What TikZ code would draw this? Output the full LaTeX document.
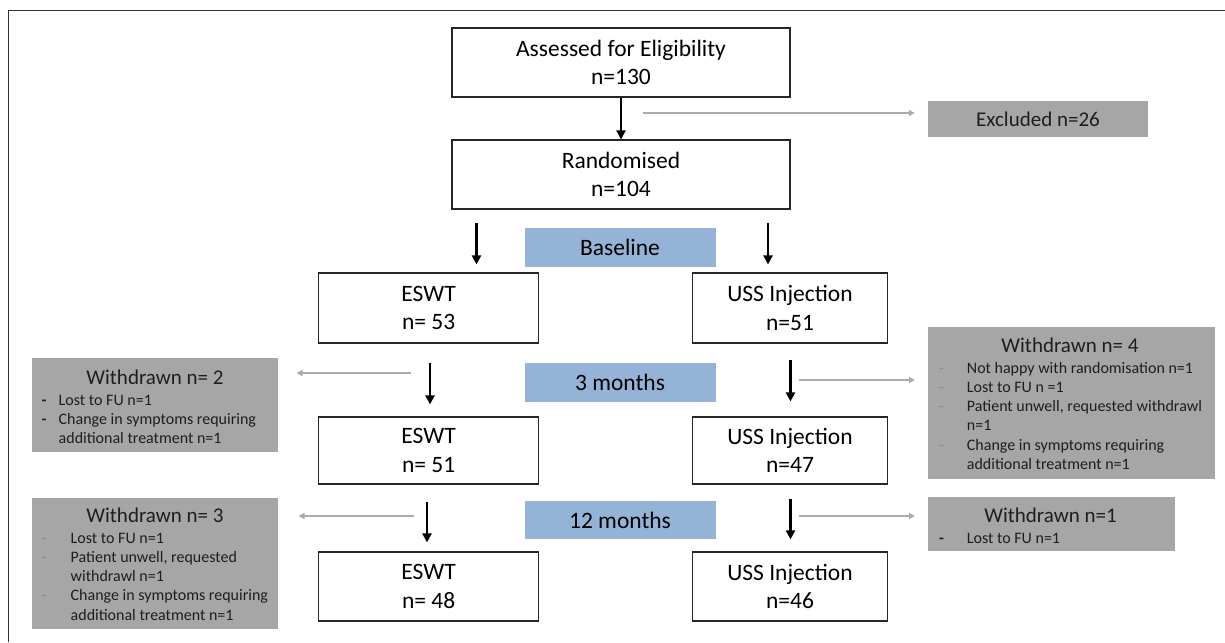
\documentclass[tikz,border=0pt]{standalone}
\usepackage{fontspec}
\setmainfont{Carlito}
\usetikzlibrary{arrows.meta}
\definecolor{boxgray}{HTML}{A6A6A6}
\definecolor{lblblue}{HTML}{95B3D7}
\definecolor{arrgray}{HTML}{ABABAB}
\definecolor{txtdark}{HTML}{1E1E1E}
\newcommand\mainfs{\fontsize{23.5}{28.5}\selectfont}
\newcommand\titlefs{\fontsize{21}{25}\selectfont}
\newcommand\itemfs{\fontsize{16}{19.3}\selectfont}
\tikzset{
  mainbox/.style={draw=black!85, line width=1.2pt, fill=white, inner sep=0pt, align=center, font=\mainfs, text=black},
  lbl/.style={fill=lblblue, inner sep=0pt, font=\mainfs, text=black},
  graybox/.style={fill=boxgray, inner sep=0pt},
  wtitle/.style={anchor=base, inner sep=0pt, font=\titlefs, text=txtdark},
  witems/.style={anchor=base west, inner sep=0pt, font=\itemfs, text=txtdark},
  blk/.style={line width=2.2pt, black, -{Triangle[length=9pt,width=9pt]}},
  gry/.style={line width=1.8pt, arrgray, -{Triangle[length=6pt,width=6pt]}}
}
\begin{document}
\begin{tikzpicture}[x=1pt,y=-1pt]
\useasboundingbox (0,0) rectangle (1225,642);
\fill[white] (0,0) rectangle (1225,642);
% frame
\draw[line width=1pt, black!80] (8.7,642) -- (8.7,11) -- (1225,11);

% main flow boxes
\node[mainbox, minimum width=338pt, minimum height=69pt] (assess) at (621,62.5) {Assessed for Eligibility\\n=130};
\node[mainbox, minimum width=338pt, minimum height=69pt] (rand) at (621,174.5) {Randomised\\n=104};
\node[graybox, minimum width=220pt, minimum height=36pt, font=\fontsize{21}{25}\selectfont, text=txtdark] (excl) at (1038,119) {Excluded n=26};

\node[lbl, minimum width=191pt, minimum height=39pt] (base) at (620,247.5) {Baseline};
\node[lbl, minimum width=191pt, minimum height=39pt] (m3) at (620,382.5) {3 months};
\node[lbl, minimum width=191pt, minimum height=38pt] (m12) at (620,520) {12 months};

\node[mainbox, minimum width=220pt, minimum height=70pt] (e1) at (428.6,308) {ESWT\\n= 53};
\node[mainbox, minimum width=194.5pt, minimum height=70pt] (u1) at (790,308) {USS Injection\\n=51};
\node[mainbox, minimum width=220pt, minimum height=67pt] (e2) at (428.6,450.5) {ESWT\\n= 51};
\node[mainbox, minimum width=194.5pt, minimum height=67pt] (u2) at (790,450.5) {USS Injection\\n=47};
\node[mainbox, minimum width=220pt, minimum height=69pt] (e3) at (428.6,586.5) {ESWT\\n= 48};
\node[mainbox, minimum width=194.5pt, minimum height=69pt] (u3) at (790,586.5) {USS Injection\\n=46};

% withdrawn boxes
\node[graybox, minimum width=246.4pt, minimum height=94pt] (w2) at (154.8,405) {};
\node[wtitle] (w2t) at (155,384) {Withdrawn n= 2};
\node[witems] (w2i) at (41.5,405) {\begin{tabular}[t]{@{}p{17pt}@{}l@{}}
\textbf{-} & Lost to FU n=1\\
\textbf{-} & Change in symptoms requiring\\
 & additional treatment n=1
\end{tabular}};

\node[graybox, minimum width=246.4pt, minimum height=131pt] (w3) at (154.8,563.5) {};
\node[wtitle] (w3t) at (155,522) {Withdrawn n= 3};
\node[witems] (w3i) at (41.5,543) {\begin{tabular}[t]{@{}p{29pt}@{}l@{}}
\textcolor{black!45}{-} & Lost to FU n=1\\
\textcolor{black!45}{-} & Patient unwell, requested\\
 & withdrawl n=1\\
\textcolor{black!45}{-} & Change in symptoms requiring\\
 & additional treatment n=1
\end{tabular}};

\node[graybox, minimum width=286.6pt, minimum height=152pt] (w4) at (1071.3,403) {};
\node[wtitle] (w4t) at (1070,352) {Withdrawn n= 4};
\node[witems] (w4i) at (939,373) {\begin{tabular}[t]{@{}p{27.7pt}@{}l@{}}
\textcolor{black!45}{-} & Not happy with randomisation n=1\\
\textcolor{black!45}{-} & Lost to FU n =1\\
\textcolor{black!45}{-} & Patient unwell, requested withdrawl\\
 & n=1\\
\textcolor{black!45}{-} & Change in symptoms requiring\\
 & additional treatment n=1
\end{tabular}};

\node[graybox, minimum width=247pt, minimum height=54pt] (w1) at (1051.5,524) {};
\node[wtitle] (w1t) at (1050.5,522) {Withdrawn n=1};
\node[witems] (w1i) at (939,543) {\begin{tabular}[t]{@{}p{27.7pt}@{}l@{}}
\textbf{-} & Lost to FU n=1
\end{tabular}};

% x positions for arrows
\coordinate (xA) at (621,0);
\coordinate (xL0) at (476.5,0);
\coordinate (xR0) at (768,0);
\coordinate (xL1) at (430,0);
\coordinate (xL2) at (427,0);
\coordinate (xR) at (790.5,0);

% black arrows
\draw[blk] (assess.south -| xA) -- (rand.north -| xA);
\draw[blk, shorten <=13pt, shorten >=8pt] (rand.south -| xL0) -- (e1.north -| xL0);
\draw[blk, shorten <=13pt, shorten >=8pt] (rand.south -| xR0) -- (u1.north -| xR0);
\draw[blk, shorten <=19pt, shorten >=12pt] (e1.south -| xL1) -- (e2.north -| xL1);
\draw[blk, shorten <=16pt, shorten >=15pt] (u1.south -| xR) -- (u2.north -| xR);
\draw[blk, shorten <=17pt, shorten >=9pt] (e2.south -| xL2) -- (e3.north -| xL2);
\draw[blk, shorten <=14pt, shorten >=12pt] (u2.south -| xR) -- (u3.north -| xR);

% grey arrows
\coordinate (g0s) at (643,113);
\draw[gry, shorten >=13pt] (g0s) -- (g0s -| excl.west);
\coordinate (g1s) at (411,373);
\coordinate (g1e) at (296.5,373);
\draw[gry] (g1s) -- (g1e);
\coordinate (g2s) at (799,380);
\coordinate (g2e) at (915,380);
\draw[gry] (g2s) -- (g2e);
\coordinate (g3s) at (414,516);
\coordinate (g3e) at (298.5,516);
\draw[gry] (g3s) -- (g3e);
\coordinate (g4s) at (799,516);
\coordinate (g4e) at (915,516);
\draw[gry] (g4s) -- (g4e);
\end{tikzpicture}
\end{document}
